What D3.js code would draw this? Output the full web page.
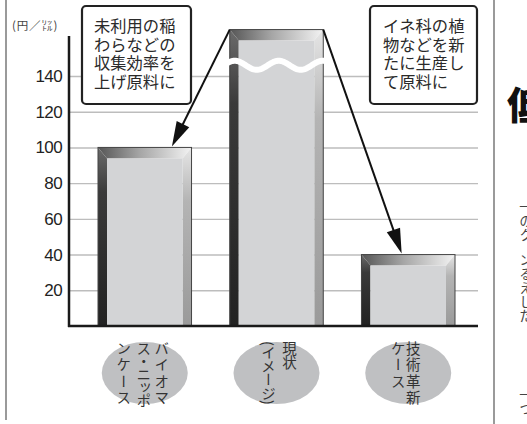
<!DOCTYPE html>
<html>
<head>
<meta charset="utf-8">
<script src="https://cdn.jsdelivr.net/npm/d3@7"></script>
<style>
  html, body { margin: 0; padding: 0; background: #fff; overflow: hidden; }
  svg { display: block; }
</style>
</head>
<body>
<svg id="chart" width="527" height="424"></svg>
<script>
// ---- data ----
const categories = ["バイオマス・ニッポンケース", "現状（イメージ）", "技術革新ケース"];
const categoryColumns = [["バイオマ", "ス・ニッポ", "ンケース"], ["現状", "(イメージ)"], ["技術革新", "ケース"]];
const values = [100, 166, 40];          // middle bar is drawn broken (value beyond the axis)
const breakValue = 146;                  // where the middle bar is broken
const yTicks = [20, 40, 60, 80, 100, 120, 140];
const unitLabel = "(円／㍑)";
const calloutLeft = ["未利用の稲", "わらなどの", "収集効率を", "上げ原料に"];
const calloutRight = ["イネ科の植", "物などを新", "たに生産し", "て原料に"];

// ---- setup ----
const svg = d3.select("#chart");
const JP = "'Noto Sans CJK JP', 'Noto Sans', sans-serif";

const x = d3.scaleBand().domain(categories).range([98, 455]).paddingInner(0.29).paddingOuter(0);
const y = d3.scaleLinear().domain([0, 140]).range([326, 76]);
const axisX = 69, axisRight = 478;

// gradients
const defs = svg.append("defs");
function grad(id, x2, y2, stops) {
  const g = defs.append("linearGradient").attr("id", id)
    .attr("x1", 0).attr("y1", 0).attr("x2", x2).attr("y2", y2);
  stops.forEach(s => g.append("stop").attr("offset", s[0]).attr("stop-color", s[1]));
}
grad("gTop", 1, 0, [[0, "#555"], [0.45, "#a6a6a6"], [1, "#f3f3f3"]]);
grad("gLeft", 0, 1, [[0, "#6b6b6b"], [0.25, "#3a3a3a"], [1, "#222"]]);
grad("gRight", 0, 1, [[0, "#e6e6e6"], [0.3, "#b4b4b4"], [1, "#9a9a9a"]]);

// page frame lines
svg.append("line").attr("x1", 6).attr("x2", 6).attr("y1", 0).attr("y2", 420)
  .attr("stroke", "#9a9a9a").attr("stroke-width", 2);
svg.append("line").attr("x1", 494).attr("x2", 494).attr("y1", 0).attr("y2", 424)
  .attr("stroke", "#9a9a9a").attr("stroke-width", 2);

// gridlines
const grid = svg.append("g").attr("transform", `translate(${axisX},0)`)
  .call(d3.axisLeft(y).tickValues(yTicks).tickSize(-(axisRight - axisX)).tickFormat(""));
grid.select(".domain").remove();
grid.selectAll(".tick line").attr("stroke", "#bdbdbd").attr("stroke-width", 1.4);

// tick labels
const yAxis = svg.append("g").attr("transform", `translate(${axisX},0)`)
  .call(d3.axisLeft(y).tickValues(yTicks).tickSize(0).tickPadding(7));
yAxis.select(".domain").remove();
yAxis.selectAll(".tick text")
  .attr("font-family", "'Liberation Sans', Arial, sans-serif")
  .attr("font-size", 17).attr("fill", "#222").attr("letter-spacing", -0.6);

// unit label
svg.append("text").attr("x", 12).attr("y", 30).text(unitLabel)
  .attr("font-family", JP).attr("font-size", 11.5).attr("fill", "#444").attr("letter-spacing", 0.8);

// callout boxes
function callout(bx, by, bw, bh, tx, lines) {
  svg.append("rect").attr("x", bx).attr("y", by).attr("width", bw).attr("height", bh)
    .attr("rx", 4).attr("fill", "#fff").attr("stroke", "#222").attr("stroke-width", 2.2);
  svg.append("g").selectAll("text").data(lines).join("text")
    .attr("x", tx).attr("y", (d, i) => by + 19 + i * 18.5)
    .attr("dominant-baseline", "central")
    .attr("font-family", JP).attr("font-size", 16.3).attr("fill", "#2a2a2a")
    .text(d => d);
}
callout(82, 6, 109, 98, 94, calloutLeft);
callout(370, 6, 107, 98, 383, calloutRight);

// bars
const bw = x.bandwidth();
const il = 9, it = 11, ir = 9;
const bars = svg.append("g").selectAll("g").data(categories).join("g");
bars.each(function (c, i) {
  const g = d3.select(this);
  const x0 = x(c), x1 = x(c) + bw, yT = y(values[i]), yB = y(0);
  g.append("polygon").attr("fill", "url(#gTop)")
    .attr("points", [[x0, yT], [x1, yT], [x1 - ir, yT + it], [x0 + il, yT + it]].join(" "));
  g.append("polygon").attr("fill", "url(#gLeft)")
    .attr("points", [[x0, yT], [x0 + il, yT + it], [x0 + il, yB], [x0, yB]].join(" "));
  g.append("polygon").attr("fill", "url(#gRight)")
    .attr("points", [[x1, yT], [x1, yB], [x1 - ir, yB], [x1 - ir, yT + it]].join(" "));
  g.append("rect").attr("x", x0 + il).attr("y", yT + it)
    .attr("width", bw - il - ir).attr("height", yB - yT - it).attr("fill", "#d3d4d6");
  g.append("rect").attr("x", x0).attr("y", yT).attr("width", bw).attr("height", yB - yT)
    .attr("fill", "none").attr("stroke", "#444").attr("stroke-width", 1);
  if (values[i] > y.domain()[1]) {
    const yb = y(breakValue);
    const pts = d3.range(x0 - 2, x1 + 3, 1).map(px => [px, yb + 4.5 * Math.sin(2 * Math.PI * (px - x0 - 16) / 44)]);
    g.append("path").attr("d", d3.line()(pts)).attr("fill", "none")
      .attr("stroke", "#fff").attr("stroke-width", 6);
  }
});

// axis lines
svg.append("line").attr("x1", axisX).attr("x2", axisX).attr("y1", 36).attr("y2", y(0) + 1)
  .attr("stroke", "#1a1a1a").attr("stroke-width", 2.5);
svg.append("line").attr("x1", axisX - 1).attr("x2", axisRight).attr("y1", y(0)).attr("y2", y(0))
  .attr("stroke", "#1a1a1a").attr("stroke-width", 2.5);

// arrows
function arrow(sx, sy, tx, ty) {
  const dx = tx - sx, dy = ty - sy, L = Math.hypot(dx, dy);
  const ux = dx / L, uy = dy / L, nx = -uy, ny = ux;
  const hl = 25, hw = 7;
  const bx = tx - ux * hl, by = ty - uy * hl;
  svg.append("line").attr("x1", sx).attr("y1", sy).attr("x2", bx + ux * 2).attr("y2", by + uy * 2)
    .attr("stroke", "#111").attr("stroke-width", 2);
  svg.append("polygon").attr("fill", "#111")
    .attr("points", [[tx, ty], [bx + nx * hw, by + ny * hw], [bx - nx * hw, by - ny * hw]].join(" "));
}
const c1 = categories[0], c2 = categories[1], c3 = categories[2];
arrow(x(c2), y(values[1]), x(c1) + bw * 0.79, y(values[0]) - 1);
arrow(x(c2) + bw, y(values[1]), x(c3) + bw * 0.43, y(values[2]) - 1);

// category labels (ellipses with vertical text)
const offsets = [[17, -1, -21], [13, -8], [5, -10]];
const spacing = [[2, -1.5, 2], [0, -0.8], [2, 2]];
categories.forEach((c, i) => {
  const cx = x(c) + bw / 2;
  svg.append("ellipse").attr("cx", cx).attr("cy", 373).attr("rx", 43).attr("ry", 31)
    .attr("fill", "#bfc0c2");
  categoryColumns[i].forEach((col, j) => {
    svg.append("text").attr("x", cx + offsets[i][j]).attr("y", 341)
      .style("writing-mode", "vertical-rl")
      .attr("font-family", JP).attr("font-size", 14.5).attr("fill", "#333")
      .attr("letter-spacing", spacing[i][j])
      .text(col);
  });
});

// neighbouring article fragment (clipped at the page edge)
svg.append("text").attr("x", 507).attr("y", 119).text("低")
  .attr("font-family", JP).attr("font-size", 38).attr("font-weight", 900).attr("fill", "#111");
[["一のク", 200], ["ンるえした", 253], ["一つ", 388]].forEach(([t, ty]) => {
  svg.append("text").attr("x", 526).attr("y", ty)
    .style("writing-mode", "vertical-rl")
    .attr("font-family", JP).attr("font-size", 13.5).attr("fill", "#444").attr("letter-spacing", 0.5)
    .text(t);
});
</script>
</body>
</html>
